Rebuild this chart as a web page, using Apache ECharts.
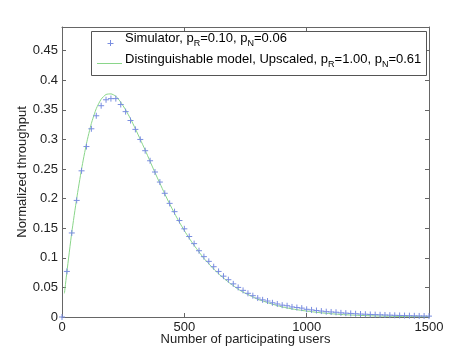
<!DOCTYPE html>
<html>
<head>
<meta charset="utf-8">
<script src="https://cdn.jsdelivr.net/npm/echarts@6/dist/echarts.min.js"></script>
<style>html,body{margin:0;padding:0;background:#fff}#c{width:474px;height:355px}</style>
</head>
<body>
<div id="c"></div>
<script>
// Simulator samples (users, normalized throughput)
const simUsers = [0,20,40,60,80,100,120,140,160,180,200,220,240,260,280,300,320,340,360,380,400,420,440,460,480,500,520,540,560,580,600,620,640,660,680,700,720,740,760,780,800,820,840,860,880,900,920,940,960,980,1000,1020,1040,1060,1080,1100,1120,1140,1160,1180,1200,1220,1240,1260,1280,1300,1320,1340,1360,1380,1400,1420,1440,1460,1480,1500];
const simValues = [0,0.077,0.142,0.197,0.247,0.288,0.318,0.340,0.357,0.367,0.369,0.369,0.359,0.347,0.332,0.317,0.300,0.281,0.264,0.245,0.228,0.209,0.192,0.178,0.163,0.149,0.136,0.124,0.112,0.102,0.094,0.085,0.077,0.069,0.063,0.056,0.050,0.045,0.040,0.036,0.032,0.029,0.027,0.024,0.022,0.020,0.019,0.017,0.016,0.015,0.013,0.012,0.011,0.010,0.009,0.0085,0.008,0.007,0.0065,0.006,0.0055,0.005,0.0047,0.0043,0.004,0.0037,0.0034,0.0031,0.0028,0.0026,0.0024,0.0022,0.002,0.0018,0.0017,0.0015];
// Distinguishable model curve
const modelUsers = [10,20,40,60,80,100,120,140,160,180,200,220,240,260,280,300,320,340,360,380,400,420,440,460,480,500,520,540,560,580,600,620,640,660,680,700,720,740,760,780,800,850,900,950,1000,1050,1100,1150,1200,1300,1400,1500];
const modelValues = [0.040,0.076,0.143,0.200,0.250,0.293,0.327,0.352,0.368,0.376,0.377,0.373,0.363,0.350,0.335,0.318,0.300,0.282,0.263,0.244,0.226,0.208,0.191,0.175,0.160,0.146,0.133,0.121,0.110,0.099,0.090,0.081,0.073,0.066,0.059,0.053,0.047,0.042,0.038,0.034,0.030,0.023,0.017,0.013,0.010,0.0075,0.0055,0.004,0.003,0.0016,0.0008,0.0004];
const xTicks = [0,500,1000,1500];
const yTicks = [0,0.05,0.1,0.15,0.2,0.25,0.3,0.35,0.4,0.45];
const legendLabels = [
  '{a|Simulator, p}{s|R}{a|=0.10, p}{s|N}{a|=0.06}',
  '{a|Distinguishable model, Upscaled, p}{s|R}{a|=1.00, p}{s|N}{a|=0.61}'
];

const FONT = '"Liberation Sans", Arial, sans-serif';
const AX = '#666';
const TXT = '#222';
const BLUE = '#7a8ee0';
const GREEN = '#8ad68a';

const chart = echarts.init(document.getElementById('c'), null, {renderer:'canvas'});
const rich = {
  a:{fontFamily:FONT,fontSize:13,color:TXT},
  s:{fontFamily:FONT,fontSize:9,color:TXT,verticalAlign:'bottom',padding:[10,0,0,0]}
};
const baseAxis = {
  axisLine:{show:true,onZero:false,lineStyle:{color:AX,width:1}},
  axisTick:{show:true,inside:true,length:4,lineStyle:{color:AX}},
  splitLine:{show:false}
};
const findTick = (arr,v)=>{const t=arr.find(y=>Math.abs(y-v)<1e-9);return t===undefined?'':String(t);};
chart.setOption({
  animation:false,
  backgroundColor:'#fff',
  grid:{left:62,right:45,top:27,bottom:38,containLabel:false},
  graphic:[
    {type:'rect',shape:{x:91.5,y:31.5,width:335,height:44},style:{fill:'#fff',stroke:'#555',lineWidth:1},z:10},
    {type:'line',shape:{x1:110.5,y1:40,x2:110.5,y2:46},style:{stroke:BLUE,lineWidth:1},z:11},
    {type:'line',shape:{x1:107.5,y1:43.5,x2:113.5,y2:43.5},style:{stroke:BLUE,lineWidth:1},z:11},
    {type:'line',shape:{x1:97,y1:63.5,x2:122,y2:63.5},style:{stroke:GREEN,lineWidth:1},z:11},
    {type:'text',left:125,top:32,style:{text:legendLabels[0],rich:rich},z:11},
    {type:'text',left:125,top:53,style:{text:legendLabels[1],rich:rich},z:11}
  ],
  xAxis:[
    Object.assign({type:'value',min:0,max:1500,interval:500,position:'bottom',
      name:'Number of participating users',nameLocation:'middle',nameGap:16,nameMoveOverlap:false,
      nameTextStyle:{fontFamily:FONT,fontSize:13,color:TXT},
      axisLabel:{fontFamily:FONT,fontSize:13,color:TXT,margin:4,formatter:v=>findTick(xTicks,v)}},baseAxis),
    Object.assign({type:'value',min:0,max:1500,interval:500,position:'top',axisLabel:{show:false}},baseAxis)
  ],
  yAxis:[
    Object.assign({type:'value',min:0,max:0.49,interval:0.05,position:'left',
      name:'Normalized throughput',nameLocation:'middle',nameGap:33,nameMoveOverlap:false,
      nameTextStyle:{fontFamily:FONT,fontSize:13,color:TXT},
      axisLabel:{fontFamily:FONT,fontSize:13,color:TXT,margin:4,showMaxLabel:false,
        formatter:v=>findTick(yTicks,v)}},baseAxis),
    Object.assign({type:'value',min:0,max:0.49,interval:0.05,position:'right',axisLabel:{show:false}},baseAxis)
  ],
  series:[
    {name:'Simulator',type:'scatter',xAxisIndex:0,yAxisIndex:0,
     symbol:'path://M5,0L5,10M0,5L10,5',symbolSize:6,
     itemStyle:{color:'none',borderColor:BLUE,borderWidth:1,opacity:1},
     data:simUsers.map((u,i)=>[u,simValues[i]]),z:3},
    {name:'Model',type:'line',xAxisIndex:0,yAxisIndex:0,showSymbol:false,symbol:'none',smooth:0.2,
     lineStyle:{color:GREEN,width:1},itemStyle:{color:GREEN},
     data:modelUsers.map((u,i)=>[u,modelValues[i]]),z:2}
  ]
});
</script>
</body>
</html>
